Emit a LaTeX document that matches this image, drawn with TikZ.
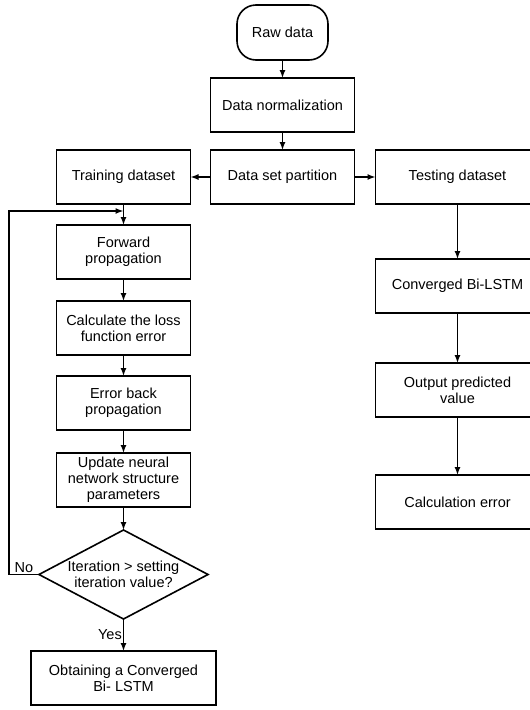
\documentclass[tikz,border=0pt]{standalone}
\usepackage{fontspec}
\setmainfont{Liberation Sans}
\usepackage{tikz}
\usetikzlibrary{shapes.geometric, arrows.meta, positioning}

\begin{document}
\begin{tikzpicture}[
  x=1pt, y=1pt,
  box/.style={rectangle, draw, line width=1.6pt, minimum height=54pt, align=center,
    font=\fontsize{14.5}{16}\selectfont, inner sep=2pt, outer sep=0pt},
  lbox/.style={box, minimum width=134pt},
  mbox/.style={box, minimum width=144pt},
  rbox/.style={box, minimum width=164pt},
  term/.style={box, rounded corners=19pt, minimum width=91pt, minimum height=55pt},
  decide/.style={diamond, draw, line width=1.6pt, aspect=1.9, inner sep=0pt, outer sep=0pt,
    minimum width=169pt, minimum height=89pt, align=center, font=\fontsize{14.5}{16}\selectfont},
  arr/.style={line width=1.4pt, -{Latex[length=8pt, width=6pt]}},
  lbl/.style={font=\fontsize{14.5}{16}\selectfont, inner sep=1pt}
]
\useasboundingbox (0,0) rectangle (530,-710);

\node[term] (raw) at (282.5,-32.5) {Raw data};
\node[mbox, below=18pt of raw] (norm) {Data normalization};
\node[mbox, below=18pt of norm] (part) {Data set partition};

% training branch
\node[lbox, left=20pt of part] (train) {Training dataset};
\node[lbox, below=21pt of train] (fwd) {Forward\\propagation};
\node[lbox, below=22pt of fwd] (loss) {Calculate the loss\\function error};
\node[lbox, below=21pt of loss] (back) {Error back\\propagation};
\node[lbox, below=23pt of back] (upd) {Update neural\\network structure\\parameters};
\node[decide, below=23pt of upd] (iter) {Iteration > setting\\iteration value?};
\node[box, minimum width=185pt, below=32pt of iter] (done) {Obtaining a Converged\\Bi- LSTM};
\coordinate[below=7pt of train.south] (join);

% testing branch
\node[rbox, right=21pt of part] (test) {Testing dataset};
\node[rbox, below=55pt of test] (conv) {Converged Bi-LSTM};
\node[rbox, below=50pt of conv] (pred) {Output predicted\\value};
\node[rbox, below=58pt of pred] (err) {Calculation error};

\draw[arr] (raw) -- (norm);
\draw[arr] (norm) -- (part);
\draw[arr] (part) -- (train);
\draw[arr] (part) -- (test);
\draw[arr] (train) -- (fwd);
\draw[arr] (fwd) -- (loss);
\draw[arr] (loss) -- (back);
\draw[arr] (back) -- (upd);
\draw[arr] (upd) -- (iter);
\draw[arr] (iter) -- node[lbl, left] {Yes} (done);
\draw[arr] (iter.west) -- node[lbl, above] {No} ++(-30pt,0) |- (join);
\draw[arr] (test) -- (conv);
\draw[arr] (conv) -- (pred);
\draw[arr] (pred) -- (err);
\end{tikzpicture}
\end{document}
